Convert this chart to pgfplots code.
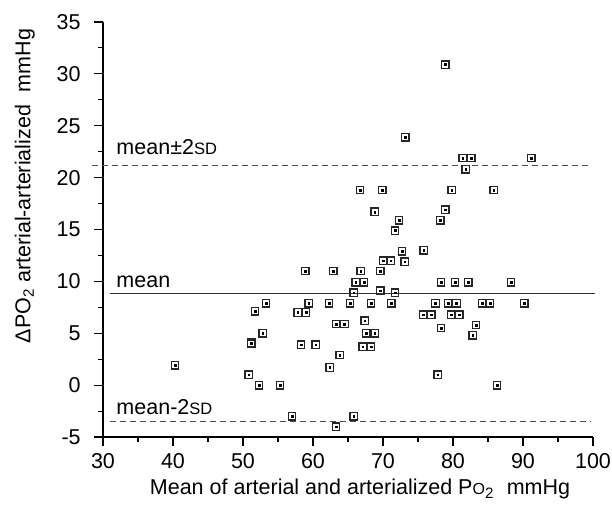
\documentclass[border=0pt]{standalone}
\usepackage{fontspec}
\setmainfont{Liberation Sans}
\usepackage{pgfplots}
\pgfplotsset{compat=1.18}
\usepackage{pgfplotstable}

% mean of the two measurements vs. difference
\pgfplotstableread{
x y
78.9 30.9
73.2 23.9
81.4 21.9
82.6 21.9
81.8 20.8
91.2 21.9
66.7 18.8
69.9 18.8
79.8 18.8
85.8 18.8
68.8 16.7
78.9 16.9
72.3 15.9
78.2 15.9
71.7 14.9
72.7 12.9
75.8 13.0
70.0 12.0
71.1 12.0
73.1 11.9
58.9 11.0
62.9 11.0
66.8 11.0
69.6 11.0
66.1 9.9
67.3 9.9
78.3 9.9
80.3 9.9
82.2 9.9
88.3 9.9
65.8 8.9
69.6 9.1
71.7 8.9
53.3 7.9
51.7 7.1
59.4 7.9
57.8 7.0
59.0 7.0
62.3 7.9
65.3 7.9
68.3 7.9
71.2 7.9
77.5 7.9
79.3 7.9
80.5 7.9
84.2 7.9
85.3 7.9
90.2 7.9
75.7 6.8
76.9 6.8
79.7 6.8
80.9 6.8
63.3 5.9
64.5 5.9
67.4 6.2
83.3 5.8
52.8 5.0
67.6 5.0
68.8 5.0
78.3 5.5
82.8 4.8
51.2 4.0
51.2 4.1
58.3 3.9
60.4 3.9
67.1 3.7
68.3 3.7
63.8 2.9
40.3 1.9
50.8 1.0
62.4 1.7
77.8 1.0
52.3 0.0
55.3 0.0
86.3 0.0
57.0 -3.0
65.8 -3.0
63.3 -4.0
}\diffdata

\begin{document}
\fontsize{21.5bp}{25bp}\selectfont
\begin{tikzpicture}
  \begin{axis}[
    name=ax,
    scale only axis,
    width=490bp, height=415bp,
    xmin=30, xmax=100,
    ymin=-5, ymax=35,
    axis lines=left,
    axis line style={-, line width=1.3bp},
    xtick={30,40,...,100},
    ytick={-5,0,...,35},
    minor x tick num=1,
    minor y tick num=1,
    tick align=outside,
    major tick length=9bp,
    minor tick length=5bp,
    tick style={line width=1.1bp, black},
    /pgf/number format/assume math mode=true,
    ticklabel style={font=\fontsize{21.5bp}{25bp}\selectfont},
    yticklabel style={xshift=-6bp},
    xlabel={Mean of arterial and arterialized P{\fontsize{16bp}{18bp}\selectfont O}\textsubscript{2}\hspace{0.6em}mmHg},
    ylabel={ΔPO\textsubscript{2} arterial-arterialized\hspace{0.6em}mmHg},
    xlabel style={at={(axis description cs:0.5245,-0.139)}, anchor=base,
      font=\fontsize{21.5bp}{25bp}\selectfont},
    ylabel style={at={(axis description cs:-0.148,0.605)}, anchor=base,
      font=\fontsize{21.5bp}{25bp}\selectfont},
    clip=false,
  ]
    % mean and limits of agreement
    \addplot[line width=1.2bp, color=black!80, no marks]
      coordinates {(31,8.84) (100.3,8.84)};
    \addplot[line width=1.2bp, color=black!70, no marks, dash pattern=on 6bp off 4bp]
      coordinates {(28.4,21.14) (99.6,21.14)};
    \addplot[line width=1.2bp, color=black!70, no marks, dash pattern=on 6bp off 4bp]
      coordinates {(31,-3.53) (99.6,-3.53)};

    \addplot[only marks, mark=square, mark size=3.7bp,
      mark options={line width=1.35bp, draw=black!85}]
      table[x=x, y=y] {\diffdata};
    \addplot[only marks, mark=square*, mark size=0.85bp,
      mark options={draw=black, fill=black}]
      table[x=x, y=y] {\diffdata};

    \node[anchor=base west, inner sep=0pt] at (axis cs:31.9,22.2)
      {mean±2{\fontsize{16.5bp}{18bp}\selectfont SD}};
    \node[anchor=base west, inner sep=0pt] at (axis cs:31.9,9.4) {mean};
    \node[anchor=base west, inner sep=0pt] at (axis cs:31.9,-2.85)
      {mean-2{\fontsize{16.5bp}{18bp}\selectfont SD}};
  \end{axis}
  \pgfresetboundingbox
  \path[use as bounding box] ([shift={(-103bp,-75bp)}]ax.south west)
    rectangle ([shift={(509bp,437bp)}]ax.south west);
\end{tikzpicture}
\end{document}
